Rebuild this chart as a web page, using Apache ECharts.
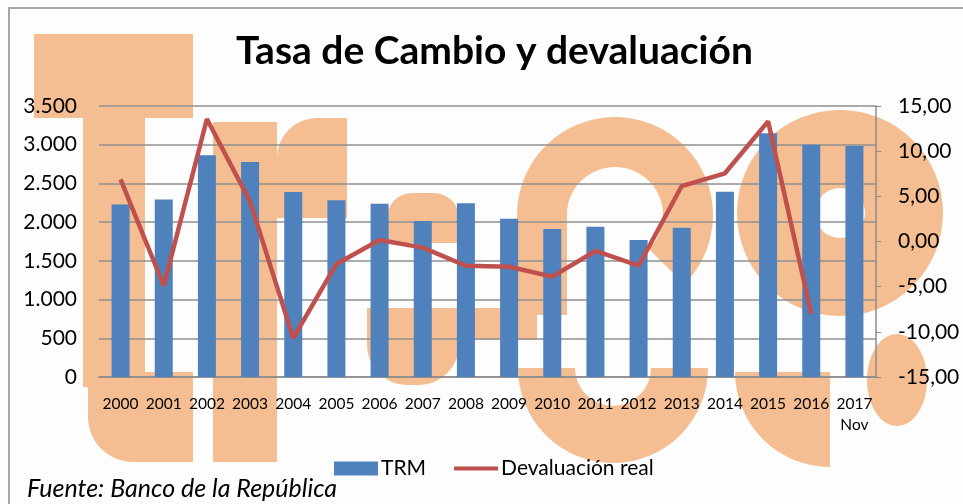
<!DOCTYPE html>
<html>
<head>
<meta charset="utf-8">
<script src="https://cdn.jsdelivr.net/npm/echarts@6/dist/echarts.min.js"></script>
<style>
  html, body { margin: 0; padding: 0; background: #fdfdfd; }
  #chart { width: 963px; height: 504px; }
</style>
</head>
<body>
<div id="chart"></div>
<script>
var years = ['2000', '2001', '2002', '2003', '2004', '2005', '2006', '2007', '2008',
    '2009', '2010', '2011', '2012', '2013', '2014', '2015', '2016', '2017\nNov'];
var trm = [2229, 2291, 2864, 2778, 2389, 2284, 2238, 2014, 2243,
    2044, 1913, 1942, 1768, 1926, 2392, 3149, 3000, 2984];
var devaluacion = [6.88, -4.9, 13.56, 4.41, -10.7, -2.49, 0.17, -0.68, -2.68,
    -2.79, -3.89, -1.05, -2.68, 6.14, 7.55, 13.3, -8.0, null];

var font = 'Lato, "Open Sans", sans-serif';
var orange = '#f5be92';

// marca de agua (logo de fondo), aproximada
var marca = [
    { type: 'rect', shape: { x: 34, y: 34, width: 159, height: 84 } },
    { type: 'rect', shape: { x: 83, y: 117, width: 62, height: 270 } },
    { type: 'rect', shape: { x: 88, y: 372, width: 105, height: 90, r: [0, 0, 0, 45] } },
    { type: 'rect', shape: { x: 213, y: 122, width: 64, height: 340 } },
    { type: 'rect', shape: { x: 277, y: 118, width: 70, height: 100, r: [40, 0, 0, 0] } },
    { type: 'rect', shape: { x: 387, y: 193, width: 72, height: 50, r: [25, 25, 0, 0] } },
    { type: 'rect', shape: { x: 367, y: 308, width: 170, height: 32 } },
    { type: 'rect', shape: { x: 367, y: 330, width: 92, height: 55, r: [0, 0, 40, 40] } },
    { type: 'sector', shape: { cx: 615, cy: 215, r: 98, r0: 48, startAngle: Math.PI, endAngle: Math.PI * 2.25 } },
    { type: 'rect', shape: { x: 517, y: 215, width: 50, height: 100 } },
    { type: 'sector', shape: { cx: 613, cy: 368, r: 95, r0: 38, startAngle: 0, endAngle: Math.PI } },
    { type: 'sector', shape: { cx: 840, cy: 213, r: 103, r0: 25, startAngle: 0, endAngle: Math.PI * 2 } },
    { type: 'sector', shape: { cx: 830, cy: 372, r: 95, r0: 0, startAngle: Math.PI / 2, endAngle: Math.PI } },
    { type: 'ellipse', shape: { cx: 897, cy: 380, rx: 30, ry: 46 } }
];
marca.forEach(function (el) {
    el.style = { fill: orange };
    el.z = -10;
    el.silent = true;
});

var chart = echarts.init(document.getElementById('chart'));

var option = {
    backgroundColor: '#fdfdfd',
    animation: false,
    textStyle: { fontFamily: font },
    title: {
        text: 'Tasa de Cambio y devaluación',
        left: 231,
        top: 27,
        textStyle: { fontFamily: font, fontSize: 39, fontWeight: 'bold', color: '#000' }
    },
    legend: {
        data: [
            { name: 'TRM', icon: 'rect' },
            { name: 'Devaluación real', icon: 'path://M0,0 M0,14 M0,5 L44,5 L44,9 L0,9 Z' }
        ],
        bottom: 20,
        left: 329,
        itemGap: 28,
        itemWidth: 44,
        itemHeight: 14,
        textStyle: { fontFamily: font, fontSize: 21, color: '#000', padding: [0, 0, 0, -2] }
    },
    grid: {
        left: 99,
        right: 87,
        top: 106,
        bottom: 127
    },
    xAxis: {
        type: 'category',
        data: years,
        z: 1,
        axisLine: { lineStyle: { color: '#8c8c8c', width: 1.5 } },
        axisTick: { show: false },
        axisLabel: { fontFamily: font, fontSize: 15.5, color: '#000', lineHeight: 21, margin: 16, interval: 0 }
    },
    yAxis: [
        {
            type: 'value',
            min: 0,
            max: 3500,
            interval: 500,
            z: 1,
            axisLine: { show: false },
            axisTick: { show: false },
            splitLine: { lineStyle: { color: '#8f8f8f', width: 1.5 } },
            axisLabel: {
                fontFamily: font, fontSize: 21, color: '#000', margin: 22,
                formatter: function (v) { return v.toString().replace(/\B(?=(\d{3})+(?!\d))/g, '.'); }
            }
        },
        {
            type: 'value',
            min: -15,
            max: 15,
            interval: 5,
            z: 1,
            splitLine: { show: false },
            axisLine: { show: true, lineStyle: { color: '#8c8c8c', width: 1.5 } },
            axisTick: { show: true, length: 5, lineStyle: { color: '#8c8c8c' } },
            axisLabel: {
                fontFamily: font, fontSize: 21, color: '#000', margin: 22,
                formatter: function (v) { return v.toFixed(2).replace('.', ','); }
            }
        }
    ],
    series: [
        {
            name: 'TRM',
            type: 'bar',
            data: trm,
            barWidth: 18,
            itemStyle: { color: '#4f81bd' }
        },
        {
            name: 'Devaluación real',
            type: 'line',
            yAxisIndex: 1,
            data: devaluacion,
            symbol: 'none',
            lineStyle: { color: '#c0504d', width: 4.5 },
            itemStyle: { color: '#c0504d' }
        }
    ],
    graphic: {
        elements: marca.concat([
            {
                type: 'polyline',
                shape: { points: [[9, 504], [9, 8], [963, 8]] },
                style: { stroke: '#a6a6a6', lineWidth: 2, fill: null },
                silent: true
            },
            {
                type: 'text',
                left: 27,
                top: 476,
                style: {
                    text: 'Fuente: Banco de la República',
                    font: 'italic 25px ' + font,
                    fill: '#000'
                }
            }
        ])
    }
};
chart.setOption(option);
</script>
</body>
</html>
